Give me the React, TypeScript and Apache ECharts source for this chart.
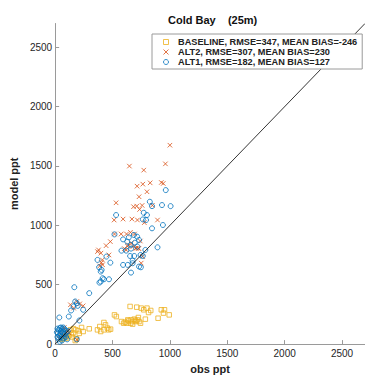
import React, { useEffect, useRef } from "react";
import * as echarts from "echarts";

const titleText = "Cold Bay    (25m)";
const xName = "obs ppt";
const yName = "model ppt";
const tickValues = [0, 500, 1000, 1500, 2000, 2500];
const seriesNames = [
  "BASELINE, RMSE=347, MEAN BIAS=-246",
  "ALT2, RMSE=307, MEAN BIAS=230",
  "ALT1, RMSE=182, MEAN BIAS=127",
];

const baselinePts = [
  [653, 317], [711, 311], [750, 303], [772, 289], [800, 303], [833, 283], [814, 266],
  [925, 289], [953, 289], [944, 261], [994, 246], [897, 218], [786, 210], [517, 246],
  [533, 232], [578, 190], [597, 176], [633, 204], [661, 204], [675, 190], [689, 210],
  [703, 190], [717, 204], [725, 224], [731, 190], [744, 176], [675, 168], [658, 176],
  [625, 176], [640, 195], [700, 200], [610, 185], [425, 182], [439, 162], [467, 120],
  [425, 120], [389, 148], [369, 120], [397, 106], [455, 135], [483, 126], [297, 129],
  [244, 106], [203, 112], [156, 92], [133, 120], [92, 64], [106, 92], [64, 50],
  [150, 60], [180, 120], [175, 30], [185, 45], [140, 80], [120, 70], [100, 50],
  [80, 60], [60, 40], [210, 90], [160, 130], [230, 140],
];

const alt2Pts = [
  [1000, 1675], [961, 1518], [647, 1499], [772, 1465], [764, 1347], [828, 1358],
  [714, 1330], [925, 1361], [942, 1353], [800, 1283], [731, 1241], [531, 1190],
  [711, 1162], [683, 1157], [758, 1168], [847, 1168], [736, 1134], [592, 1053],
  [669, 1053], [514, 1045], [892, 1045], [717, 1045], [777, 1023], [575, 927],
  [622, 927], [656, 941], [692, 927], [517, 927], [742, 868], [639, 835], [631, 824],
  [665, 850], [679, 822], [708, 808], [729, 805], [481, 863], [444, 829], [369, 779],
  [378, 793], [399, 766], [469, 751], [403, 686], [389, 658], [411, 709], [413, 668],
  [703, 807], [725, 807], [619, 793], [603, 804], [763, 737], [750, 682], [214, 339],
  [244, 322], [189, 359], [133, 331], [161, 303], [60, 120], [80, 140], [45, 90],
  [100, 110], [70, 60], [120, 95], [35, 50], [90, 75], [189, 36],
];

const alt1Pts = [
  [964, 1297], [1006, 1162], [931, 1171], [825, 1199], [844, 1162], [772, 1106],
  [800, 1087], [764, 1050], [792, 1045], [939, 1003], [844, 975], [531, 1087],
  [517, 924], [592, 882], [642, 899], [686, 919], [714, 905], [731, 877], [628, 863],
  [658, 835], [694, 854], [717, 821], [786, 793], [892, 815], [578, 787], [619, 787],
  [661, 804], [653, 742], [689, 742], [744, 751], [764, 742], [675, 703], [592, 667],
  [633, 667], [675, 681], [731, 653], [747, 647], [661, 602], [369, 709], [447, 737],
  [481, 686], [383, 647], [397, 611], [405, 625], [414, 555], [386, 518], [397, 527],
  [425, 546], [469, 546], [167, 479], [297, 429], [175, 359], [189, 345], [197, 322],
  [244, 289], [161, 317], [139, 283], [119, 232], [36, 224], [211, 199], [20, 130],
  [30, 120], [40, 135], [50, 110], [60, 125], [70, 100], [80, 130], [90, 115],
  [100, 95], [25, 90], [35, 70], [45, 85], [55, 60], [65, 75], [75, 50], [85, 85],
  [95, 60], [105, 40], [30, 40], [40, 20], [20, 60], [60, 30], [110, 110], [15, 100],
  [50, 140], [70, 140], [189, 40],
];

const diagonal = [
  [0, 0],
  [2700, 2700],
];

const FONT = '"Liberation Sans", Arial, sans-serif';
const C_BASE = "#EDB120";
const C_ALT2 = "#D95319";
const C_ALT1 = "#0072BD";
const X_PATH = "path://M0,0L10,10M10,0L0,10";
const SQ_PATH = "path://M0,0L10,0L10,10L0,10Z";

export default function App() {
  const ref = useRef<HTMLDivElement>(null);
  useEffect(() => {
    if (!ref.current) return;
    const chart = echarts.init(ref.current, null, { renderer: "svg" });
    const fmt = (v: number) => String(v);
    const axisCommon = {
      type: "value",
      min: 0,
      max: 2700,
      interval: 500,
      nameLocation: "middle",
      nameTextStyle: { fontFamily: FONT, fontSize: 11, fontWeight: "bold", color: "#222" },
      axisLine: { show: true, lineStyle: { color: "#9a9a9a", width: 1 } },
      axisTick: { show: true, inside: true, length: 4, customValues: tickValues, lineStyle: { color: "#9a9a9a" } },
      splitLine: { show: false },
    };
    chart.setOption({
      animation: false,
      backgroundColor: "#fff",
      title: {
        text: titleText,
        left: 168,
        top: 14,
        padding: 0,
        textStyle: { fontFamily: FONT, fontSize: 11, fontWeight: "bold", color: "#111" },
      },
      legend: {
        data: [
          { name: seriesNames[0], icon: SQ_PATH },
          { name: seriesNames[1], icon: X_PATH },
          { name: seriesNames[2], icon: "circle" },
        ],
        orient: "vertical",
        left: 152,
        top: 34,
        padding: [3, 5, 2, 11],
        itemGap: 0,
        itemWidth: 14,
        itemHeight: 5,
        symbolKeepAspect: true,
        backgroundColor: "#fff",
        borderColor: "#9a9a9a",
        borderWidth: 1,
        borderRadius: 0,
        itemStyle: { borderWidth: 1 },
        textStyle: { fontFamily: FONT, fontSize: 9.2, fontWeight: "bold", color: "#222", lineHeight: 10 },
      },
      grid: { left: 52.5, top: 23.5, width: 321, height: 320.8 },
      xAxis: {
        ...axisCommon,
        name: xName,
        nameGap: 18,
        axisLabel: { fontFamily: FONT, fontSize: 10, color: "#262626", margin: 4, customValues: tickValues, formatter: fmt },
      },
      yAxis: {
        ...axisCommon,
        name: yName,
        nameGap: 32,
        axisLabel: { fontFamily: FONT, fontSize: 10, color: "#262626", margin: 3, customValues: tickValues, formatter: fmt },
      },
      series: [
        {
          name: seriesNames[0],
          type: "scatter",
          data: baselinePts,
          symbol: "rect",
          symbolSize: 4.5,
          itemStyle: { color: "transparent", borderColor: C_BASE, borderWidth: 1 },
        },
        {
          name: seriesNames[1],
          type: "scatter",
          data: alt2Pts,
          symbol: X_PATH,
          symbolSize: 4.5,
          itemStyle: { color: "transparent", borderColor: C_ALT2, borderWidth: 1 },
        },
        {
          name: seriesNames[2],
          type: "scatter",
          data: alt1Pts,
          symbol: "circle",
          symbolSize: 5,
          itemStyle: { color: "transparent", borderColor: C_ALT1, borderWidth: 1 },
        },
        {
          name: "diag",
          type: "line",
          data: diagonal,
          symbol: "none",
          silent: true,
          lineStyle: { color: "#000", width: 0.8 },
          z: 3,
        },
      ],
    });
    return () => chart.dispose();
  }, []);
  return (
    <div
      ref={ref}
      style={{ position: "absolute", left: 0, top: 0, width: 365, height: 379, overflow: "hidden" }}
    />
  );
}
